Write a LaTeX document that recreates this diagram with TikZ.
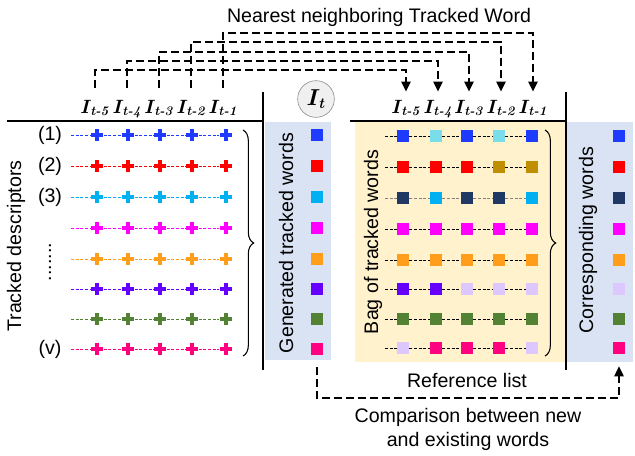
\documentclass[tikz,border=0pt]{standalone}
\usepackage{amsmath}
\usepackage{bm}
\usepackage{fontspec}
\newfontfamily\arial{Liberation Sans}
\usetikzlibrary{arrows.meta,decorations.pathreplacing}
\definecolor{cblue}{HTML}{1F3BFF}
\definecolor{ccyan}{HTML}{7ADDEA}
\definecolor{cred}{HTML}{FF0000}
\definecolor{cgold}{HTML}{BF8F00}
\definecolor{cnavy}{HTML}{1F3864}
\definecolor{clblue}{HTML}{00B0F0}
\definecolor{cmag}{HTML}{FF00FF}
\definecolor{corange}{HTML}{FF9E1B}
\definecolor{cviolet}{HTML}{6600FF}
\definecolor{clav}{HTML}{DCC8FF}
\definecolor{cgreen}{HTML}{548235}
\definecolor{cpink}{HTML}{FF0080}
\definecolor{pblue}{HTML}{DAE3F3}
\definecolor{porange}{HTML}{FFF2CC}
\newcommand\fr[1]{$\bm{I}_{\textbf{\textit{t-#1}}}$}
\tikzset{
  txt/.style={font=\arial\fontsize{14.7}{17}\selectfont, inner sep=0pt},
  lab/.style={font=\fontsize{14}{16}\selectfont, inner sep=0pt, anchor=base},
  sq/.style={draw=none, fill=#1, minimum size=9pt, inner sep=0pt},
  crs/.style={draw=none, minimum size=9.5pt, inner sep=0pt,
    path picture={\draw[line width=2.8pt,#1]
      (path picture bounding box.north) -- (path picture bounding box.south)
      (path picture bounding box.west) -- (path picture bounding box.east);}},
  rowl/.style={#1, line width=0.7pt, dash pattern=on 2.3pt off 1.2pt},
  conn/.style={line width=1.1pt, dash pattern=on 6pt off 3pt},
  tip/.style={-{Triangle[length=7.5pt,width=7pt]}},
  brc/.style={decorate, decoration={brace, amplitude=8pt}, line width=0.8pt},
}
\begin{document}
\begin{tikzpicture}[x=0.75pt,y=-0.75pt]
\useasboundingbox (0,0) rectangle (635,455);
% panels
\fill[pblue] (265,122) rectangle (331,360);
\fill[porange] (355,122) rectangle (565,362);
\fill[pblue] (567,122) rectangle (633,362);
% separating lines
\draw[line width=0.8pt] (7,121) -- (263,121);
\draw[line width=0.8pt] (263,92) -- (263,370);
\draw[line width=0.8pt] (350,121) -- (566,121);
\draw[line width=0.8pt] (566,92) -- (566,370);

% title
\node[txt] (title) at (379,17) {Nearest neighboring Tracked Word};

% frame labels
\node[lab] (L5) at (95,113) {\fr{5}};
\node[lab] (L4) at (127,113) {\fr{4}};
\node[lab] (L3) at (159,113) {\fr{3}};
\node[lab] (L2) at (191,113) {\fr{2}};
\node[lab] (L1) at (223,113) {\fr{1}};
\node[lab] (R5) at (406,113) {\fr{5}};
\node[lab] (R4) at (438,113) {\fr{4}};
\node[lab] (R3) at (469,113) {\fr{3}};
\node[lab] (R2) at (501,113) {\fr{2}};
\node[lab] (R1) at (533,113) {\fr{1}};
\node[circle, draw=gray, fill=gray!12, minimum size=27.5pt, inner sep=0pt,
  font=\fontsize{16}{18}\selectfont] (It) at (316,99) {$\bm{I}_{\textbf{\textit{t}}}$};

% nearest neighbour connectors
\coordinate (v1) at (0,33);
\coordinate (v2) at (0,42);
\coordinate (v3) at (0,52);
\coordinate (v4) at (0,61);
\coordinate (v5) at (0,70);
\foreach \k in {1,...,5}{
  \draw[conn,tip,shorten <=9pt,shorten >=6pt] (L\k.north) -- (L\k.north |- v\k)
    -- (R\k.north |- v\k) -- (R\k.north);
}

% left: tracked descriptors
\node[txt, rotate=90] (td) at (16,246) {Tracked descriptors};
\node[txt] (n1) at (50,135) {(1)};
\node[txt] (n2) at (50,166) {(2)};
\node[txt] (n3) at (50,197) {(3)};
\node[txt] (nv) at (50,349) {(v)};
\node[txt, rotate=90] (dots) at (50,262) {.......};

\foreach \r/\y/\c in {1/135/cblue,2/166/cred,3/197/clblue,4/228/cmag,5/259/corange,6/289/cviolet,7/319/cgreen,8/349/cpink}{
  \coordinate (ls\r) at (71,\y);
  \foreach \j/\x in {1/97,2/128,3/160,4/192,5/226}{
    \node[crs=\c] (d\r-\j) at (\x,\y) {};
  }
  \draw[rowl=\c] (ls\r) -- (d\r-1.west);
  \draw[rowl=\c] (d\r-1.east) -- (d\r-2.west);
  \draw[rowl=\c] (d\r-2.east) -- (d\r-3.west);
  \draw[rowl=\c] (d\r-3.east) -- (d\r-4.west);
  \draw[rowl=\c] (d\r-4.east) -- (d\r-5.west);
  \node[sq=\c] (g\r) at (317,\y) {};
}
\draw[brc] (243,130) -- (243,356);
\node[txt, rotate=90] (gtw) at (286,243) {Generated tracked words};

% right: bag of tracked words
\node[txt, rotate=90] (btw) at (373,242) {Bag of tracked words};
\foreach \r/\y/\ca/\cb/\cc/\cd/\ce/\cf/\lc in {
  1/136/cblue/ccyan/cblue/ccyan/cblue/cblue/black,
  2/167/cred/cred/cred/cgold/cgold/cred/black,
  3/198/cnavy/clblue/cnavy/cnavy/clblue/cnavy/gray,
  4/229/cmag/cmag/cmag/cmag/cmag/cmag/black,
  5/260/corange/corange/corange/corange/corange/corange/black,
  6/289/cviolet/cviolet/clav/clav/clav/clav/black,
  7/319/cgreen/cgreen/cgreen/cgreen/cgreen/cgreen/black,
  8/348/clav/cpink/cpink/cpink/clav/cpink/black}{
  \coordinate (bs\r) at (385,\y);
  \node[sq=\ca] (b\r-1) at (403,\y) {};
  \node[sq=\cb] (b\r-2) at (436,\y) {};
  \node[sq=\cc] (b\r-3) at (467,\y) {};
  \node[sq=\cd] (b\r-4) at (499,\y) {};
  \node[sq=\ce] (b\r-5) at (532,\y) {};
  \draw[rowl=\lc] (bs\r) -- (b\r-1.west);
  \draw[rowl=\lc] (b\r-1.east) -- (b\r-2.west);
  \draw[rowl=\lc] (b\r-2.east) -- (b\r-3.west);
  \draw[rowl=\lc] (b\r-3.east) -- (b\r-4.west);
  \draw[rowl=\lc] (b\r-4.east) -- (b\r-5.west);
  \node[sq=\cf] (c\r) at (619,\y) {};
}
\draw[brc] (545,130) -- (545,356);
\node[txt, rotate=90] (cw) at (588,240) {Corresponding words};

% bottom
\node[txt] (ref) at (467,380) {Reference list};
\coordinate (bot) at (0,398);
\draw[conn,tip,shorten <=9pt,shorten >=9pt] (g8.south) -- (g8.south |- bot)
  -- (c8.south |- bot) -- (c8.south);
\node[txt, align=center] (cmp) at (468,429) {Comparison between new\\[1pt]and existing words};
\end{tikzpicture}
\end{document}
